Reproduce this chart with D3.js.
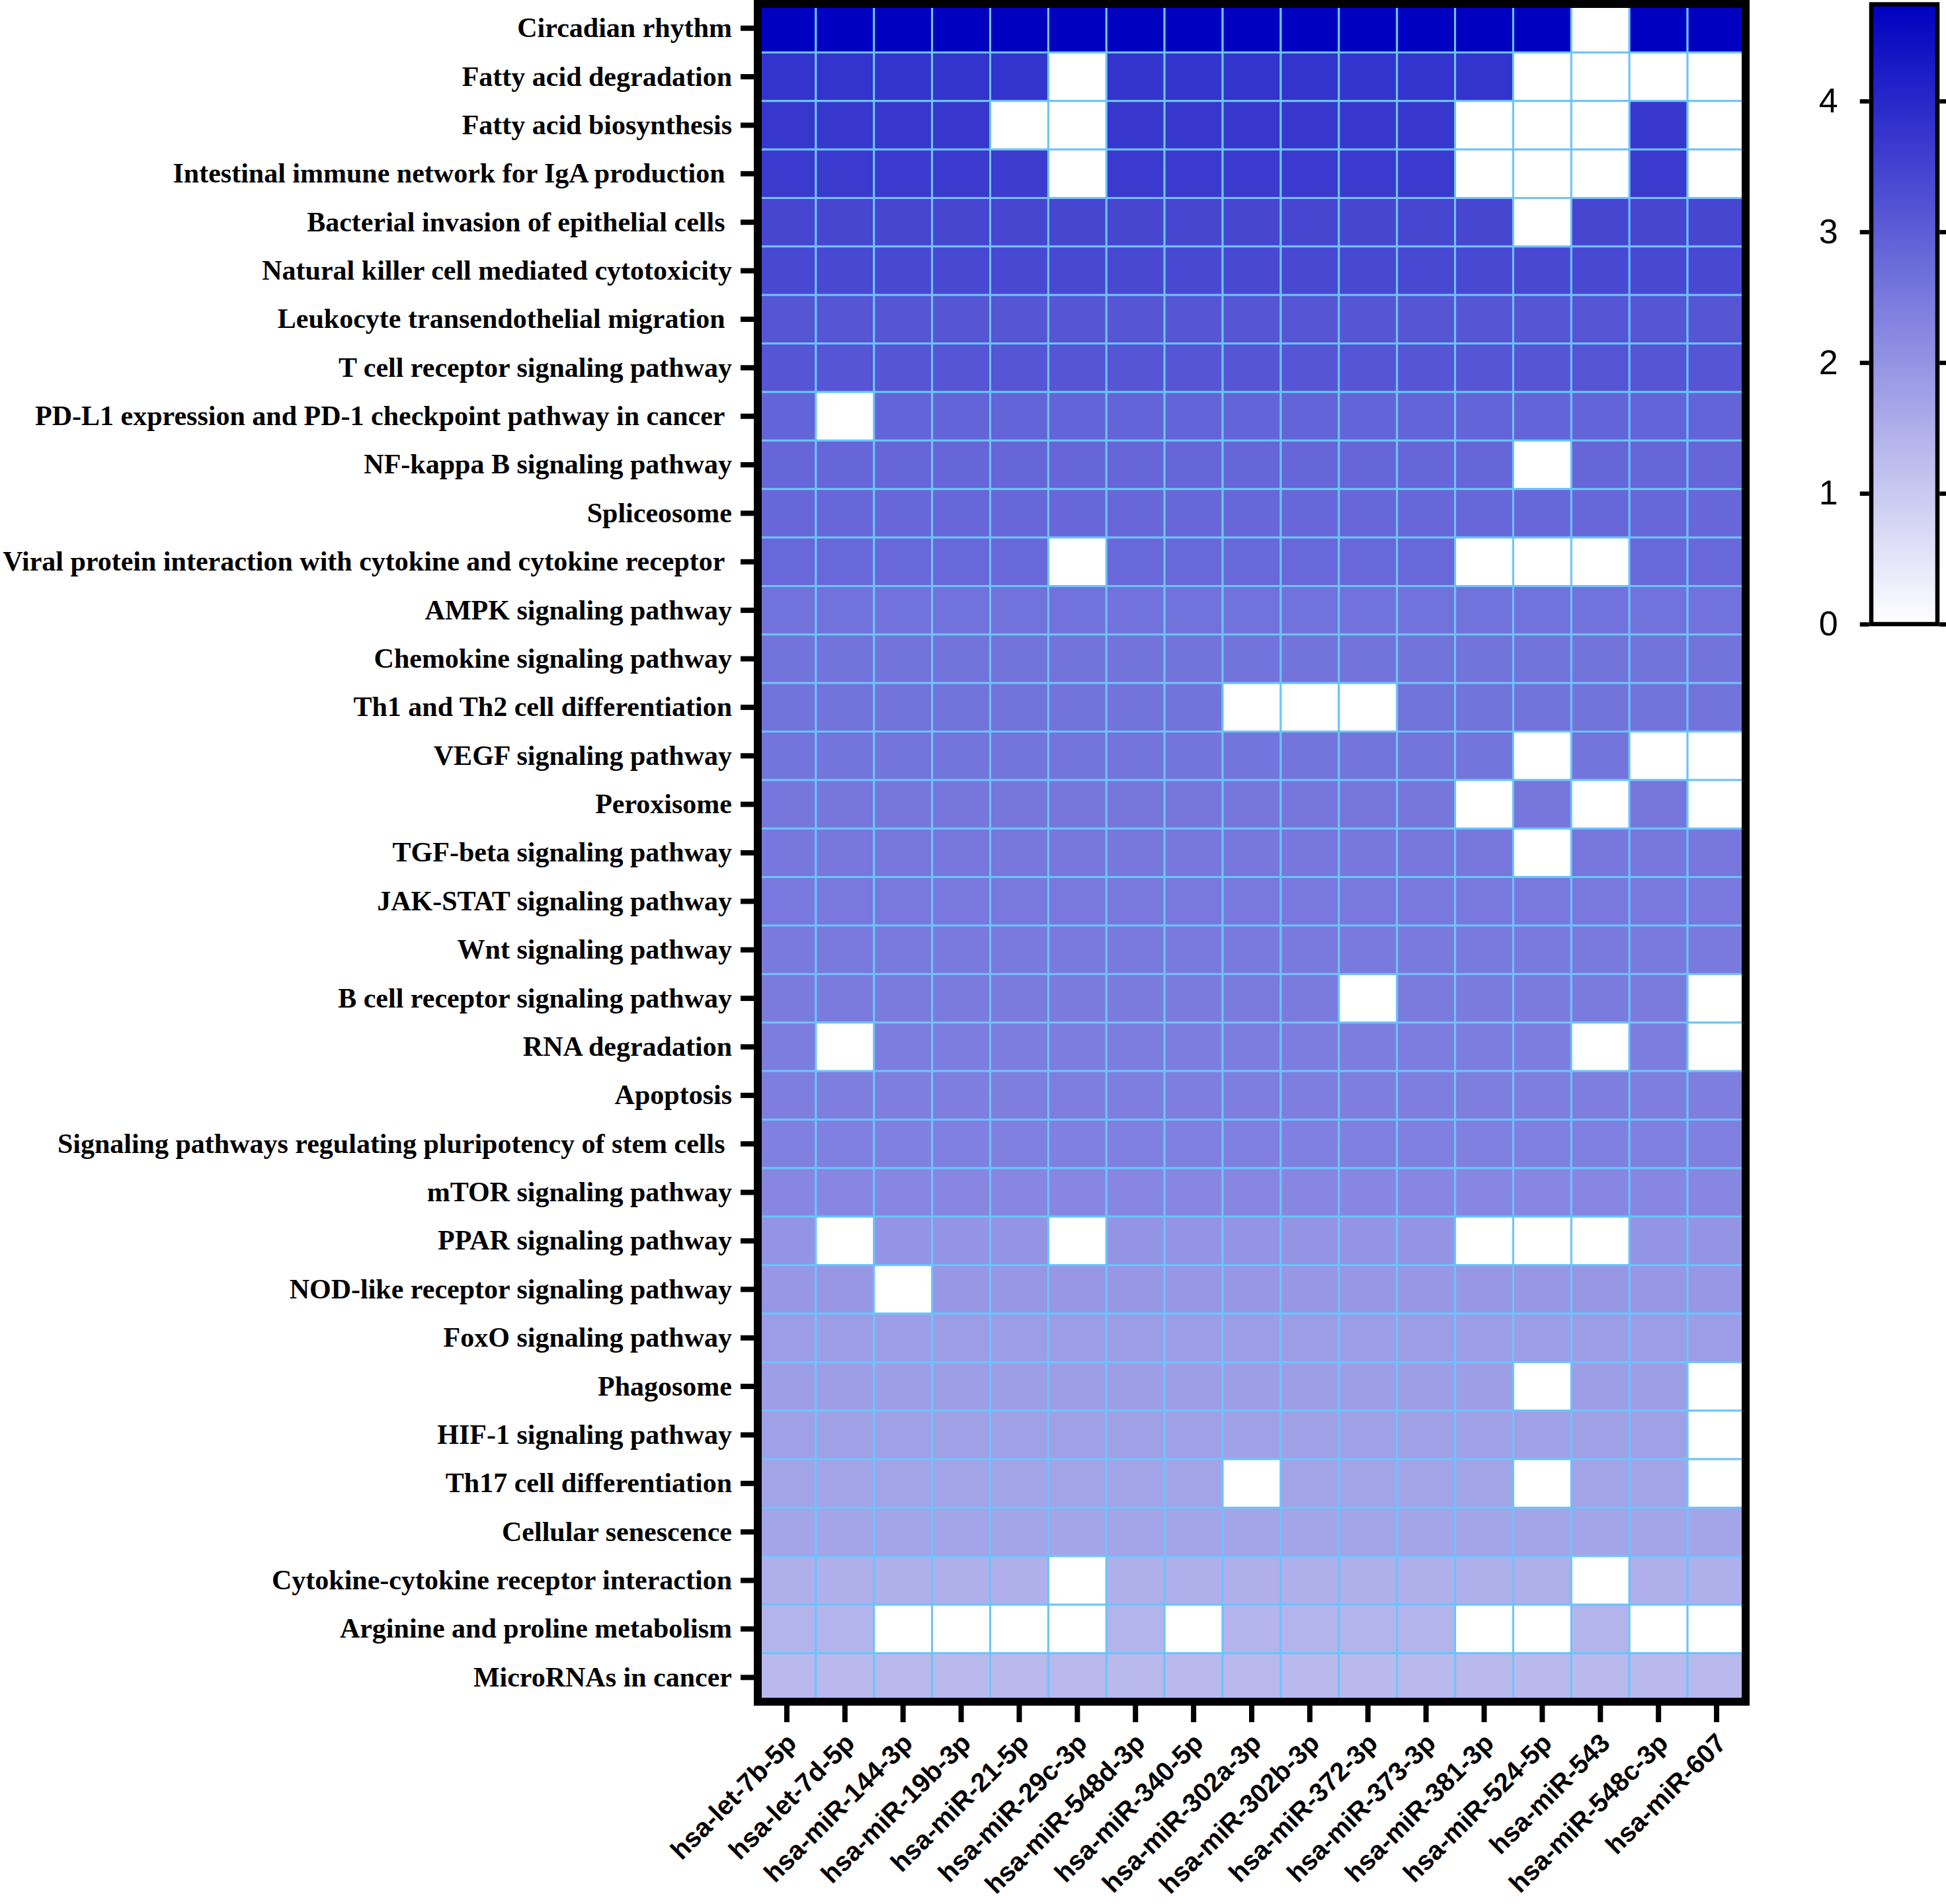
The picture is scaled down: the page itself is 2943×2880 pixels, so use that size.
<!DOCTYPE html>
<html>
<head>
<meta charset="utf-8">
<script src="https://cdn.jsdelivr.net/npm/d3@7"></script>
<style>
  body { margin: 0; background: #fff; }
</style>
</head>
<body>
<div id="chart"></div>
<script>
const _ = null;

// KEGG pathways (rows, top to bottom); trailing spaces are in the original labels
const pathways = [
  "Circadian rhythm",
  "Fatty acid degradation",
  "Fatty acid biosynthesis",
  "Intestinal immune network for IgA production ",
  "Bacterial invasion of epithelial cells ",
  "Natural killer cell mediated cytotoxicity",
  "Leukocyte transendothelial migration ",
  "T cell receptor signaling pathway",
  "PD-L1 expression and PD-1 checkpoint pathway in cancer ",
  "NF-kappa B signaling pathway",
  "Spliceosome",
  "Viral protein interaction with cytokine and cytokine receptor ",
  "AMPK signaling pathway",
  "Chemokine signaling pathway",
  "Th1 and Th2 cell differentiation",
  "VEGF signaling pathway",
  "Peroxisome",
  "TGF-beta signaling pathway",
  "JAK-STAT signaling pathway",
  "Wnt signaling pathway",
  "B cell receptor signaling pathway",
  "RNA degradation",
  "Apoptosis",
  "Signaling pathways regulating pluripotency of stem cells ",
  "mTOR signaling pathway",
  "PPAR signaling pathway",
  "NOD-like receptor signaling pathway",
  "FoxO signaling pathway",
  "Phagosome",
  "HIF-1 signaling pathway",
  "Th17 cell differentiation",
  "Cellular senescence",
  "Cytokine-cytokine receptor interaction",
  "Arginine and proline metabolism",
  "MicroRNAs in cancer"
];

// miRNAs (columns, left to right)
const mirnas = [
  "hsa-let-7b-5p", "hsa-let-7d-5p", "hsa-miR-144-3p", "hsa-miR-19b-3p",
  "hsa-miR-21-5p", "hsa-miR-29c-3p", "hsa-miR-548d-3p", "hsa-miR-340-5p",
  "hsa-miR-302a-3p", "hsa-miR-302b-3p", "hsa-miR-372-3p", "hsa-miR-373-3p",
  "hsa-miR-381-3p", "hsa-miR-524-5p", "hsa-miR-543", "hsa-miR-548c-3p",
  "hsa-miR-607"
];

// enrichment score per pathway x miRNA, null = no target genes (white)
const values = [
  [4.74, 4.74, 4.74, 4.74, 4.74, 4.74, 4.74, 4.74, 4.74, 4.74, 4.74, 4.74, 4.74, 4.74, _, 4.74, 4.74],
  [3.79, 3.79, 3.79, 3.79, 3.79, _, 3.79, 3.79, 3.79, 3.79, 3.79, 3.79, 3.79, _, _, _, _],
  [3.72, 3.72, 3.72, 3.72, _, _, 3.72, 3.72, 3.72, 3.72, 3.72, 3.72, _, _, _, 3.72, _],
  [3.66, 3.66, 3.66, 3.66, 3.62, _, 3.66, 3.66, 3.66, 3.66, 3.66, 3.66, _, _, _, 3.66, _],
  [3.44, 3.44, 3.44, 3.44, 3.44, 3.44, 3.44, 3.44, 3.44, 3.44, 3.44, 3.44, 3.44, _, 3.44, 3.44, 3.44],
  [3.40, 3.40, 3.40, 3.40, 3.40, 3.40, 3.40, 3.40, 3.40, 3.40, 3.40, 3.40, 3.40, 3.40, 3.40, 3.40, 3.40],
  [3.14, 3.14, 3.14, 3.14, 3.14, 3.14, 3.14, 3.14, 3.14, 3.14, 3.14, 3.14, 3.14, 3.14, 3.16, 3.14, 3.14],
  [3.16, 3.16, 3.16, 3.16, 3.16, 3.16, 3.16, 3.16, 3.16, 3.16, 3.16, 3.16, 3.16, 3.16, 3.18, 3.16, 3.16],
  [2.88, _, 2.88, 2.88, 2.88, 2.88, 2.88, 2.88, 2.88, 2.88, 2.88, 2.88, 2.88, 2.88, 2.88, 2.88, 2.88],
  [2.84, 2.84, 2.84, 2.84, 2.84, 2.84, 2.84, 2.84, 2.84, 2.84, 2.84, 2.84, 2.84, _, 2.84, 2.84, 2.84],
  [2.83, 2.83, 2.83, 2.83, 2.83, 2.83, 2.83, 2.83, 2.83, 2.83, 2.83, 2.83, 2.83, 2.83, 2.83, 2.83, 2.83],
  [2.81, 2.81, 2.81, 2.81, 2.81, _, 2.81, 2.81, 2.81, 2.81, 2.81, 2.81, _, _, _, 2.81, 2.81],
  [2.62, 2.62, 2.62, 2.62, 2.62, 2.62, 2.62, 2.62, 2.62, 2.62, 2.62, 2.62, 2.62, 2.62, 2.62, 2.62, 2.62],
  [2.61, 2.61, 2.61, 2.61, 2.61, 2.61, 2.61, 2.61, 2.61, 2.61, 2.61, 2.61, 2.61, 2.61, 2.61, 2.61, 2.61],
  [2.60, 2.60, 2.60, 2.60, 2.60, 2.60, 2.60, 2.60, _, _, _, 2.60, 2.60, 2.60, 2.60, 2.60, 2.60],
  [2.58, 2.58, 2.58, 2.58, 2.58, 2.58, 2.58, 2.58, 2.58, 2.58, 2.58, 2.58, 2.58, _, 2.58, _, _],
  [2.55, 2.55, 2.55, 2.55, 2.55, 2.55, 2.55, 2.55, 2.55, 2.55, 2.55, 2.55, _, 2.55, _, 2.55, _],
  [2.53, 2.53, 2.53, 2.53, 2.53, 2.53, 2.53, 2.53, 2.53, 2.53, 2.53, 2.53, 2.53, _, 2.53, 2.53, 2.53],
  [2.51, 2.51, 2.51, 2.51, 2.51, 2.51, 2.51, 2.51, 2.51, 2.51, 2.51, 2.51, 2.51, 2.51, 2.51, 2.51, 2.51],
  [2.47, 2.47, 2.47, 2.47, 2.47, 2.47, 2.47, 2.47, 2.47, 2.47, 2.47, 2.47, 2.47, 2.47, 2.47, 2.47, 2.47],
  [2.45, 2.45, 2.45, 2.45, 2.45, 2.45, 2.45, 2.45, 2.45, 2.45, _, 2.45, 2.45, 2.45, 2.45, 2.45, _],
  [2.42, _, 2.42, 2.42, 2.42, 2.42, 2.42, 2.42, 2.42, 2.42, 2.42, 2.42, 2.42, 2.42, _, 2.42, _],
  [2.40, 2.40, 2.40, 2.40, 2.40, 2.40, 2.40, 2.40, 2.40, 2.40, 2.40, 2.40, 2.40, 2.40, 2.40, 2.40, 2.40],
  [2.36, 2.36, 2.36, 2.36, 2.36, 2.36, 2.36, 2.36, 2.36, 2.36, 2.36, 2.36, 2.36, 2.36, 2.36, 2.36, 2.36],
  [2.23, 2.23, 2.23, 2.23, 2.23, 2.23, 2.23, 2.23, 2.23, 2.23, 2.23, 2.23, 2.23, 2.23, 2.23, 2.23, 2.23],
  [1.99, _, 1.99, 1.99, 1.99, _, 1.99, 1.99, 1.99, 1.99, 1.99, 1.99, _, _, _, 1.99, 1.99],
  [1.93, 1.93, _, 1.93, 1.93, 1.93, 1.93, 1.93, 1.93, 1.93, 1.93, 1.93, 1.93, 1.93, 1.93, 1.93, 1.93],
  [1.82, 1.82, 1.82, 1.82, 1.82, 1.82, 1.82, 1.82, 1.82, 1.82, 1.82, 1.82, 1.82, 1.82, 1.82, 1.82, 1.82],
  [1.80, 1.80, 1.80, 1.80, 1.80, 1.80, 1.80, 1.80, 1.80, 1.80, 1.80, 1.80, 1.80, _, 1.80, 1.80, _],
  [1.77, 1.77, 1.77, 1.77, 1.77, 1.77, 1.77, 1.77, 1.77, 1.77, 1.77, 1.77, 1.77, 1.77, 1.77, 1.77, _],
  [1.71, 1.71, 1.71, 1.71, 1.71, 1.71, 1.71, 1.71, _, 1.71, 1.71, 1.71, 1.71, _, 1.71, 1.71, _],
  [1.70, 1.70, 1.70, 1.70, 1.70, 1.70, 1.70, 1.70, 1.70, 1.70, 1.70, 1.70, 1.70, 1.70, 1.70, 1.70, 1.70],
  [1.49, 1.49, 1.49, 1.49, 1.49, _, 1.49, 1.49, 1.49, 1.49, 1.49, 1.49, 1.49, 1.49, _, 1.49, 1.49],
  [1.39, 1.39, _, _, _, _, 1.39, _, 1.39, 1.39, 1.39, 1.39, _, _, 1.39, _, _],
  [1.30, 1.30, 1.30, 1.30, 1.30, 1.30, 1.30, 1.30, 1.30, 1.30, 1.30, 1.30, 1.30, 1.30, 1.30, 1.30, 1.30]
];

const colorTicks = [0, 1, 2, 3, 4];
const colorMax = 4.74;

const width = 2943;
const height = 2880;
const plot = {left: 1146, right: 2640, top: 6, bottom: 2574};
const bar = {left: 2830, right: 2930, top: 6.5, bottom: 944};

const x = d3.scaleBand().domain(mirnas).range([plot.left, plot.right]);
const y = d3.scaleBand().domain(pathways).range([plot.top, plot.bottom]);
const color = d3.scaleLinear()
    .domain([0, colorMax])
    .range(["#ffffff", "#0000c0"])
    .interpolate(d3.interpolateRgb);

const svg = d3.select("#chart").append("svg")
    .attr("width", width)
    .attr("height", height)
    .attr("viewBox", [0, 0, width, height])
    .style("display", "block")
    .style("background", "#fff");

const cells = [];
values.forEach((row, i) => {
  row.forEach((v, j) => cells.push({pathway: pathways[i], mirna: mirnas[j], value: v}));
});

svg.append("g")
    .attr("class", "cells")
    .selectAll("rect")
    .data(cells)
    .join("rect")
      .attr("x", d => x(d.mirna))
      .attr("y", d => y(d.pathway))
      .attr("width", x.bandwidth())
      .attr("height", y.bandwidth())
      .attr("fill", d => d.value == null ? "#ffffff" : color(d.value))
      .attr("stroke", "#6cc4fb")
      .attr("stroke-width", 3);

// heavy black frame round the heatmap
svg.append("rect")
    .attr("x", plot.left)
    .attr("y", plot.top)
    .attr("width", plot.right - plot.left)
    .attr("height", plot.bottom - plot.top)
    .attr("fill", "none")
    .attr("stroke", "#000")
    .attr("stroke-width", 12);

const yAxis = svg.append("g")
    .attr("transform", `translate(${plot.left - 6},0)`)
    .call(d3.axisLeft(y).tickSize(20).tickPadding(13)
      .tickFormat(d => d.replace(/ $/, "\u00a0")));
yAxis.select(".domain").remove();
yAxis.selectAll(".tick line").attr("stroke", "#000").attr("stroke-width", 8);
yAxis.selectAll(".tick text")
    .attr("fill", "#000")
    .attr("dy", "0.32em")
    .style("font", "bold 42px 'Liberation Serif', 'Times New Roman', serif");

const xAxis = svg.append("g")
    .attr("transform", `translate(0,${plot.bottom + 6})`)
    .call(d3.axisBottom(x).tickSize(25).tickPadding(0));
xAxis.select(".domain").remove();
xAxis.selectAll(".tick line").attr("stroke", "#000").attr("stroke-width", 8);
xAxis.selectAll(".tick text")
    .attr("fill", "#000")
    .attr("x", 0)
    .attr("y", 0)
    .attr("dy", "0.35em")
    .attr("text-anchor", "end")
    .attr("transform", "translate(7,49) rotate(-45)")
    .style("font", "bold 40px 'Liberation Sans', Arial, sans-serif");

// colour bar
const cy = d3.scaleLinear().domain([0, colorMax]).range([bar.bottom, bar.top]);

const grad = svg.append("defs").append("linearGradient")
    .attr("id", "bar-grad")
    .attr("x1", 0).attr("y1", 1)
    .attr("x2", 0).attr("y2", 0);
grad.selectAll("stop")
    .data(d3.range(0, 1.0001, 0.1))
    .join("stop")
      .attr("offset", d => d)
      .attr("stop-color", d => color(d * colorMax));

svg.append("rect")
    .attr("x", bar.left)
    .attr("y", bar.top)
    .attr("width", bar.right - bar.left)
    .attr("height", bar.bottom - bar.top)
    .attr("fill", "url(#bar-grad)")
    .attr("stroke", "#000")
    .attr("stroke-width", 6.5);

const barLeft = svg.append("g")
    .attr("transform", `translate(${bar.left - 3.25},0)`)
    .call(d3.axisLeft(cy).tickValues(colorTicks).tickSize(14).tickPadding(33)
      .tickFormat(d3.format("d")));
barLeft.select(".domain").remove();
barLeft.selectAll(".tick line").attr("stroke", "#000").attr("stroke-width", 6.5);
barLeft.selectAll(".tick text")
    .attr("fill", "#000")
    .style("font", "52px 'Liberation Sans', Arial, sans-serif");

const barRight = svg.append("g")
    .attr("transform", `translate(${bar.right + 3.25},0)`)
    .call(d3.axisRight(cy).tickValues(colorTicks).tickSize(20).tickFormat(""));
barRight.select(".domain").remove();
barRight.selectAll(".tick line").attr("stroke", "#000").attr("stroke-width", 6.5);
</script>
</body>
</html>
